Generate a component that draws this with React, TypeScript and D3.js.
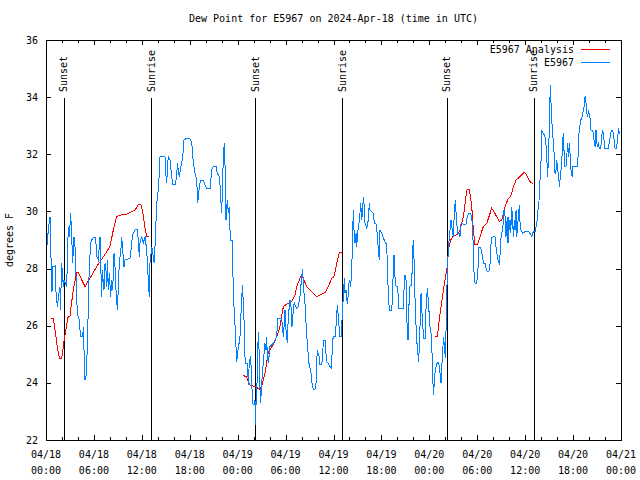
import React from 'react';
import * as d3 from 'd3';

const title = 'Dew Point for E5967 on 2024-Apr-18 (time in UTC)';
const yAxisLabel = 'degrees F';
const seriesNames = ['E5967 Analysis', 'E5967'];
const seriesColors = ['#ff0000', '#0080ff'];

const yTicks = [22, 24, 26, 28, 30, 32, 34, 36];
const xMajorHours = [0, 6, 12, 18, 24, 30, 36, 42, 48, 54, 60, 66, 72];
const xTickDates = ['04/18', '04/18', '04/18', '04/18', '04/19', '04/19', '04/19', '04/19', '04/20', '04/20', '04/20', '04/20', '04/21'];
const xTickTimes = ['00:00', '06:00', '12:00', '18:00', '00:00', '06:00', '12:00', '18:00', '00:00', '06:00', '12:00', '18:00', '00:00'];

const sunHours = [2.25, 13.19, 26.2, 37.1, 50.2, 61.1];
const sunLabels = ['Sunset', 'Sunrise', 'Sunset', 'Sunrise', 'Sunset', 'Sunrise'];

// hours since 2024-04-18 00:00 UTC, dew point °F
const analysis1: [number, number][] = [
  [0.63, 26.26], [0.91, 26.26], [1.13, 25.85], [1.38, 25.33], [1.67, 24.86], [1.97, 24.86], [2.25, 25.44],
  [2.59, 26.03], [2.79, 26.34], [3.0, 26.34], [3.22, 26.84], [3.42, 27.25], [3.84, 27.86], [4.0, 27.88],
  [4.88, 27.37], [5.51, 27.66], [6.35, 28.07], [6.76, 28.24], [7.6, 28.59], [8.01, 28.77], [8.43, 29.35],
  [8.85, 29.82], [9.48, 29.88], [10.11, 29.9], [10.73, 29.99], [11.14, 30.05], [11.56, 30.23], [11.86, 30.26],
  [12.11, 29.99], [12.33, 29.53], [12.61, 29.12], [12.94, 29.12],
];
const analysis2: [number, number][] = [
  [24.71, 24.25], [25.13, 24.22], [25.33, 24.04], [25.54, 23.93], [26.17, 23.87], [26.71, 23.78], [27.0, 23.87],
  [27.42, 24.33], [27.84, 25.09], [28.46, 25.33], [28.89, 25.62], [29.3, 25.97], [29.72, 26.67], [30.14, 26.76],
  [30.77, 26.84], [31.18, 27.08], [31.39, 27.37], [31.89, 27.72], [32.22, 27.66], [32.64, 27.37], [33.27, 27.19],
  [33.9, 27.02], [34.31, 27.08], [34.94, 27.16], [35.35, 27.37], [35.78, 27.66], [36.06, 27.72], [36.4, 28.18],
  [36.73, 28.56], [37.03, 28.56],
];
const analysis3: [number, number][] = [
  [48.71, 25.62], [49.0, 25.62], [49.34, 26.43], [49.68, 27.08], [49.96, 27.6], [50.18, 27.95], [50.3, 28.24],
  [50.38, 28.65], [50.68, 29.0], [51.01, 29.14], [51.63, 29.21], [51.84, 29.35], [52.3, 29.88], [52.68, 30.75],
  [53.01, 30.77], [53.31, 30.17], [53.51, 29.35], [53.72, 28.83], [54.01, 28.83], [54.35, 29.12], [54.76, 29.47],
  [55.19, 29.58], [55.81, 30.11], [56.22, 29.93], [56.76, 29.64], [57.06, 29.7], [57.48, 30.17], [57.89, 30.46],
  [58.19, 30.52], [58.53, 30.87], [58.86, 31.1], [59.36, 31.22], [59.86, 31.37], [60.11, 31.31], [60.61, 31.04],
  [60.94, 30.98],
];

const observed: [number, number][] = [
  [0.13, 28.83], [0.29, 29.35], [0.5, 29.82], [0.59, 28.53], [0.71, 28.01], [0.75, 27.19], [0.84, 28.07],
  [1.13, 28.09], [1.15, 27.6], [1.25, 27.19], [1.42, 26.67], [1.54, 26.96], [1.75, 27.37], [1.8, 26.55],
  [1.97, 28.18], [2.17, 27.37], [2.25, 27.6], [2.59, 27.37], [2.67, 28.18], [2.79, 29.47], [2.92, 29.12],
  [3.09, 29.93], [3.22, 29.12], [3.34, 28.18], [3.42, 28.65], [3.51, 29.12], [3.63, 28.77], [3.76, 27.72],
  [3.92, 26.43], [4.04, 26.32], [4.17, 26.2], [4.26, 25.85], [4.35, 25.62], [4.6, 25.62], [4.67, 25.97],
  [4.76, 25.15], [4.88, 24.1], [5.01, 24.22], [5.1, 24.68], [5.22, 25.62], [5.3, 26.84], [5.42, 28.07],
  [5.6, 28.88], [5.72, 29.0], [5.92, 29.09], [6.14, 29.09], [6.26, 28.88], [6.35, 28.42], [6.55, 28.3],
  [6.67, 28.77], [6.76, 29.12], [6.85, 28.18], [6.97, 27.02], [7.05, 27.95], [7.18, 27.48], [7.26, 27.25],
  [7.39, 28.18], [7.51, 27.95], [7.6, 27.37], [7.68, 28.3], [7.8, 27.25], [7.93, 27.83], [8.1, 27.02],
  [8.23, 27.6], [8.35, 27.25], [8.52, 28.53], [8.64, 28.07], [8.77, 27.25], [8.93, 26.55], [9.05, 27.25],
  [9.18, 28.24], [9.35, 28.53], [9.48, 29.12], [9.6, 28.65], [9.77, 28.07], [9.89, 28.3], [10.11, 28.32],
  [10.52, 28.36], [10.64, 28.65], [10.81, 29.12], [10.93, 29.23], [11.14, 29.35], [11.43, 29.37], [11.56, 29.0],
  [11.68, 28.42], [11.77, 28.88], [11.98, 29.12], [12.18, 28.88], [12.4, 29.12], [12.61, 28.65], [12.81, 27.6],
  [12.94, 27.02], [13.02, 28.18], [13.24, 28.77], [13.44, 28.42], [13.56, 28.18], [13.65, 28.77], [13.86, 30.28],
  [14.06, 30.75], [14.19, 31.33], [14.28, 31.92], [14.9, 31.92], [15.03, 31.22], [15.11, 30.98], [15.24, 31.68],
  [15.32, 31.92], [15.53, 31.8], [15.65, 31.45], [15.87, 30.93], [16.15, 30.93], [16.37, 31.22], [16.44, 31.68],
  [16.69, 31.22], [16.9, 31.57], [17.12, 31.92], [17.28, 32.5], [17.62, 32.56], [17.94, 32.56], [18.24, 32.44],
  [18.45, 31.68], [18.66, 31.33], [18.87, 31.1], [19.0, 30.28], [19.2, 30.87], [19.37, 31.1], [19.7, 31.1],
  [19.91, 30.93], [20.12, 30.79], [20.54, 30.79], [20.75, 31.45], [20.95, 31.59], [21.29, 31.59], [21.45, 31.33],
  [21.7, 31.22], [21.88, 30.63], [21.95, 29.93], [22.08, 30.52], [22.2, 31.92], [22.33, 32.41], [22.41, 31.68],
  [22.54, 29.7], [22.7, 30.4], [22.83, 29.93], [22.95, 30.17], [23.04, 29.35], [23.13, 29.0], [23.33, 29.0],
  [23.38, 28.42], [23.45, 27.13], [23.66, 26.08], [23.79, 25.27], [23.88, 24.74], [24.0, 25.09], [24.17, 25.38],
  [24.29, 25.62], [24.38, 26.2], [24.51, 27.02], [24.63, 27.43], [24.71, 26.55], [24.83, 26.08], [24.92, 24.92],
  [25.04, 24.68], [25.23, 24.68], [25.33, 23.93], [25.46, 24.74], [25.63, 24.92], [25.76, 23.98], [25.88, 23.28],
  [26.05, 23.23], [26.17, 23.4], [26.26, 22.53], [26.3, 23.28], [26.38, 23.52], [26.46, 24.45], [26.58, 25.79],
  [26.71, 24.92], [26.8, 23.75], [26.88, 23.28], [27.0, 23.98], [27.14, 24.45], [27.3, 25.03], [27.42, 25.38],
  [27.55, 25.15], [27.64, 25.62], [27.71, 24.92], [27.84, 24.68], [28.05, 25.27], [28.46, 25.38], [28.68, 25.5],
  [28.89, 25.62], [29.01, 26.26], [29.51, 26.26], [29.64, 25.85], [29.72, 25.62], [29.84, 26.08], [29.93, 26.55],
  [30.05, 25.85], [30.22, 25.38], [30.34, 26.32], [30.55, 26.9], [30.68, 26.67], [30.8, 25.97], [30.97, 26.55],
  [31.09, 26.84], [31.18, 26.73], [31.39, 26.61], [31.59, 26.67], [31.8, 27.02], [32.02, 27.72], [32.14, 27.97],
  [32.22, 27.48], [32.31, 27.13], [32.43, 26.78], [32.56, 26.08], [32.72, 25.38], [32.85, 24.92], [32.97, 24.57],
  [33.15, 24.45], [33.27, 24.04], [33.47, 23.77], [33.68, 23.77], [33.81, 23.98], [33.9, 24.68], [33.97, 25.15],
  [34.1, 24.98], [34.22, 24.92], [34.31, 24.63], [34.52, 24.63], [34.65, 24.92], [34.72, 25.5], [34.94, 25.5],
  [35.06, 25.03], [35.15, 24.74], [35.35, 24.68], [35.56, 24.57], [35.78, 24.51], [35.85, 25.5], [36.06, 25.62],
  [36.19, 25.62], [36.31, 25.97], [36.4, 26.43], [36.5, 26.73], [36.63, 26.2], [36.81, 25.62], [37.03, 25.62],
  [37.1, 26.73], [37.23, 26.9], [37.35, 27.66], [37.44, 27.13], [37.57, 27.25], [37.65, 26.9], [37.78, 26.78],
  [37.85, 27.19], [37.98, 27.6], [38.07, 27.48], [38.15, 27.37], [38.28, 28.01], [38.35, 28.65], [38.48, 30.05],
  [38.57, 29.35], [38.69, 28.88], [38.82, 29.23], [38.9, 28.77], [39.11, 29.47], [39.23, 29.64], [39.41, 30.28],
  [39.53, 29.7], [39.66, 30.05], [39.73, 30.52], [39.86, 30.17], [39.95, 29.58], [40.16, 29.41], [40.36, 29.7],
  [40.48, 30.28], [40.57, 30.05], [40.78, 29.99], [40.99, 29.93], [41.11, 29.58], [41.32, 29.58], [41.41, 29.35],
  [41.48, 29.23], [41.61, 28.65], [41.74, 28.3], [41.82, 29.35], [42.04, 29.23], [42.2, 29.1], [42.45, 28.94],
  [42.66, 28.83], [42.74, 28.18], [42.86, 27.13], [42.99, 26.55], [43.29, 26.55], [43.42, 27.13], [43.49, 28.18],
  [43.58, 28.48], [43.7, 27.72], [43.83, 27.37], [43.99, 27.37], [44.12, 27.02], [44.2, 26.61], [44.74, 26.61],
  [44.83, 27.25], [44.95, 27.78], [45.08, 27.6], [45.17, 26.2], [45.24, 25.97], [45.33, 25.5], [45.42, 26.08],
  [45.49, 27.37], [45.79, 27.43], [45.91, 28.59], [45.99, 29.0], [46.12, 28.07], [46.2, 27.02], [46.33, 26.03],
  [46.49, 25.21], [46.67, 24.74], [46.83, 25.97], [46.96, 27.13], [47.04, 26.67], [47.17, 25.97], [47.33, 25.56],
  [47.5, 25.56], [47.58, 26.55], [47.75, 27.31], [47.87, 26.9], [48.0, 26.32], [48.08, 25.97], [48.21, 25.73],
  [48.34, 25.03], [48.42, 24.33], [48.5, 23.58], [48.59, 23.87], [48.71, 24.33], [48.84, 24.57], [49.0, 24.71],
  [49.18, 24.71], [49.34, 24.33], [49.46, 23.98], [49.55, 24.57], [49.68, 25.03], [49.75, 25.62], [49.88, 25.33],
  [50.0, 24.86], [50.09, 25.85], [50.18, 27.02], [50.25, 27.83], [50.38, 28.65], [50.5, 29.12], [50.59, 29.35],
  [50.71, 29.7], [50.88, 29.35], [51.0, 29.12], [51.13, 29.93], [51.25, 30.4], [51.43, 29.58], [51.55, 29.23],
  [51.72, 29.23], [51.84, 29.12], [51.97, 29.58], [52.18, 29.58], [52.34, 29.53], [52.6, 29.56], [52.76, 29.82],
  [52.97, 29.93], [53.18, 29.93], [53.34, 29.7], [53.51, 28.77], [53.6, 27.83], [53.72, 27.48], [53.93, 27.48],
  [54.06, 27.83], [54.22, 28.74], [54.43, 28.74], [54.56, 28.53], [54.68, 28.42], [54.76, 28.18], [54.97, 28.18],
  [55.1, 28.01], [55.26, 27.89], [55.47, 27.89], [55.6, 28.18], [55.69, 28.77], [55.81, 29.09], [56.22, 29.12],
  [56.35, 28.77], [56.51, 28.42], [56.64, 28.24], [56.76, 28.18], [56.85, 28.48], [56.94, 29.0], [57.14, 29.35],
  [57.26, 29.58], [57.35, 30.05], [57.48, 29.82], [57.6, 29.12], [57.69, 29.47], [57.76, 29.82], [57.85, 28.88],
  [57.94, 29.82], [58.02, 29.35], [58.1, 29.7], [58.19, 29.23], [58.32, 30.17], [58.44, 29.58], [58.53, 29.12],
  [58.65, 29.7], [58.73, 29.35], [58.86, 30.05], [58.94, 29.12], [59.02, 29.35], [59.15, 29.82], [59.27, 30.23],
  [59.36, 29.58], [59.48, 29.35], [59.7, 29.23], [59.98, 29.29], [60.42, 29.29], [60.61, 29.23], [60.82, 29.12],
  [60.94, 29.23], [61.02, 29.29], [61.23, 29.29], [61.45, 29.58], [61.57, 29.93], [61.74, 30.4], [61.86, 31.1],
  [61.99, 31.8], [62.07, 32.85], [62.27, 32.73], [62.4, 32.68], [62.52, 32.56], [62.65, 32.21], [62.74, 31.68],
  [62.82, 31.22], [62.9, 31.8], [62.99, 32.62], [63.07, 33.55], [63.15, 34.43], [63.24, 33.78], [63.32, 33.2],
  [63.45, 32.73], [63.53, 32.38], [63.65, 31.92], [63.74, 31.33], [63.86, 31.45], [63.95, 31.8], [64.07, 31.45],
  [64.2, 31.22], [64.28, 30.87], [64.36, 31.1], [64.49, 31.45], [64.61, 31.92], [64.7, 32.5], [64.78, 32.73],
  [64.86, 32.15], [64.99, 31.57], [65.11, 31.57], [65.2, 31.92], [65.33, 32.38], [65.41, 31.92], [65.53, 32.38],
  [65.62, 32.03], [65.74, 31.45], [65.87, 31.22], [65.95, 31.57], [66.53, 31.57], [66.62, 31.92], [66.7, 32.62],
  [66.78, 32.85], [66.96, 33.2], [67.08, 33.26], [67.21, 33.43], [67.37, 33.67], [67.5, 34.04], [67.62, 33.78],
  [67.71, 33.43], [67.84, 33.32], [67.91, 33.55], [68.04, 33.38], [68.12, 33.26], [68.25, 32.85], [68.46, 32.85],
  [68.62, 32.5], [68.75, 32.27], [68.87, 32.85], [68.95, 32.5], [69.03, 32.27], [69.15, 32.38], [69.28, 32.21],
  [69.46, 32.21], [69.58, 32.62], [69.71, 32.85], [69.83, 32.62], [69.96, 32.21], [70.41, 32.21], [70.62, 32.56],
  [70.78, 32.85], [70.96, 32.85], [71.12, 32.56], [71.25, 32.21], [71.46, 32.21], [71.58, 32.62], [71.71, 32.85],
  [71.87, 32.73],
];

const W = 640;
const H = 480;
const L = 46;
const R = 621;
const T = 40;
const B = 440;
const FONT = '"DejaVu Sans Mono", "Liberation Mono", monospace';

export default function App() {
  const x = d3.scaleLinear().domain([0, 72]).range([L, R]);
  const y = d3.scaleLinear().domain([22, 36]).range([B, T]);
  const line = d3.line<[number, number]>().x((d) => x(d[0])).y((d) => y(d[1]));
  const minorHours = d3.range(0, 73, 2).filter((h) => h % 6 !== 0);
  const px = (v: number) => Math.round(v) + 0.5;

  return (
    <svg width={W} height={H} style={{ position: 'absolute', left: 0, top: 0, background: '#fff' }}
      fontFamily={FONT} fontSize={10}>
      <rect x={0} y={0} width={W} height={H} fill="#fff" />
      <text x={(L + R) / 2} y={21.5} textAnchor="middle" fill="#000">{title}</text>

      {/* y ticks */}
      {yTicks.map((v) => (
        <g key={'y' + v}>
          <line x1={L} x2={L + 5} y1={px(y(v))} y2={px(y(v))} stroke="#000" />
          <line x1={R - 5} x2={R} y1={px(y(v))} y2={px(y(v))} stroke="#000" />
          <text x={38} y={y(v) + 3.5} textAnchor="end" fill="#000">{v}</text>
        </g>
      ))}
      {/* x ticks */}
      {xMajorHours.map((h, i) => (
        <g key={'x' + h}>
          <line x1={px(x(h))} x2={px(x(h))} y1={B} y2={B - 5} stroke="#000" />
          <line x1={px(x(h))} x2={px(x(h))} y1={T} y2={T + 5} stroke="#000" />
          <text x={x(h)} y={458} textAnchor="middle" fill="#000">{xTickDates[i]}</text>
          <text x={x(h)} y={474} textAnchor="middle" fill="#000">{xTickTimes[i]}</text>
        </g>
      ))}
      {minorHours.map((h) => (
        <g key={'m' + h}>
          <line x1={px(x(h))} x2={px(x(h))} y1={B} y2={B - 3} stroke="#000" />
          <line x1={px(x(h))} x2={px(x(h))} y1={T} y2={T + 3} stroke="#000" />
        </g>
      ))}

      <text transform={`translate(13,${(T + B) / 2}) rotate(-90)`} textAnchor="middle" fill="#000">{yAxisLabel}</text>

      {/* sunrise / sunset */}
      {sunHours.map((h, i) => (
        <g key={'s' + i}>
          <line x1={px(x(h))} x2={px(x(h))} y1={98} y2={B} stroke="#000" />
          <text transform={`translate(${x(h) + 3.5},92) rotate(-90)`} textAnchor="start" fill="#000">{sunLabels[i]}</text>
        </g>
      ))}

      {/* series */}
      {[analysis1, analysis2, analysis3].map((seg, i) => (
        <path key={'a' + i} d={line(seg) || ''} fill="none" stroke={seriesColors[0]} strokeWidth={1} shapeRendering="crispEdges" />
      ))}
      <path d={line(observed) || ''} fill="none" stroke={seriesColors[1]} strokeWidth={1} shapeRendering="crispEdges" />

      {/* legend */}
      {seriesNames.map((name, i) => (
        <g key={'l' + i}>
          <text x={574} y={53 + i * 13} textAnchor="end" fill="#000">{name}</text>
          <line x1={581} x2={610} y1={49.5 + i * 13} y2={49.5 + i * 13} stroke={seriesColors[i]} />
        </g>
      ))}

      <rect x={L + 0.5} y={T + 0.5} width={R - L} height={B - T} fill="none" stroke="#000" />
    </svg>
  );
}
